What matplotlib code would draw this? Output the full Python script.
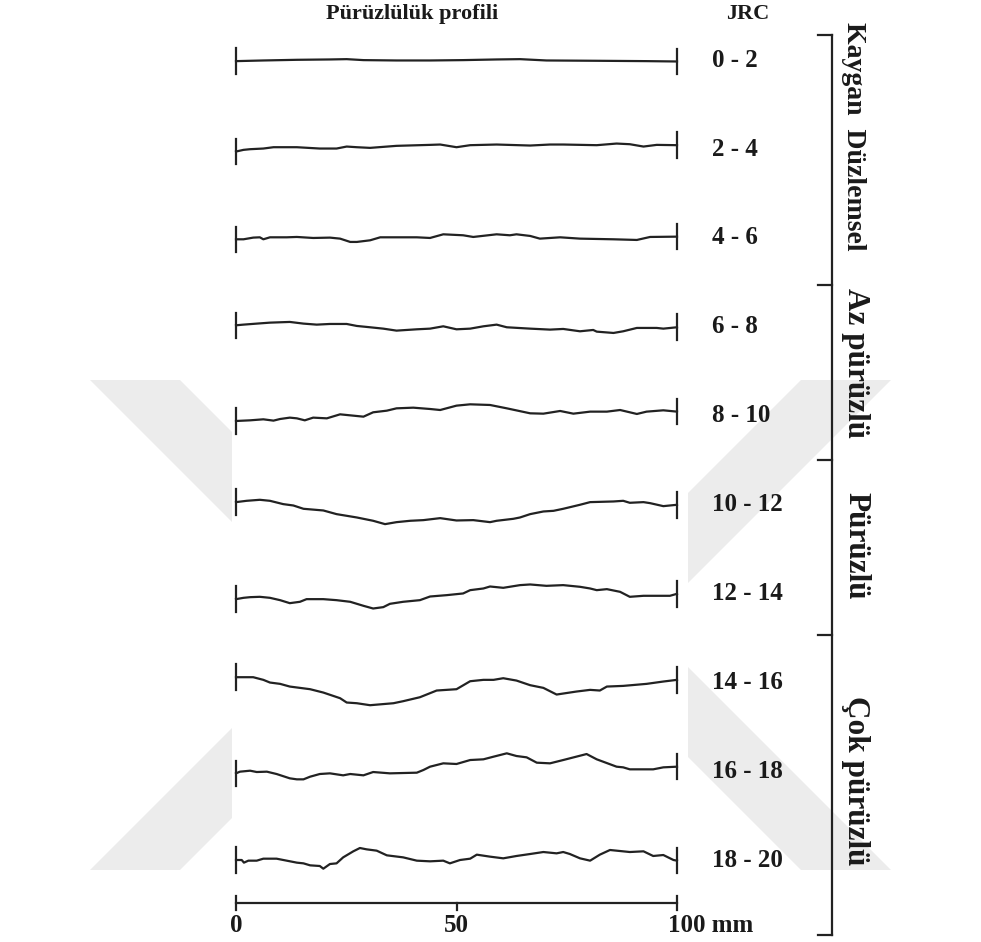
import matplotlib
matplotlib.use("Agg")
import matplotlib.pyplot as plt
from matplotlib.patches import Polygon, Rectangle

plt.rcParams['font.family'] = ['Liberation Serif', 'DejaVu Serif']

# JRC classes and their roughness profiles (x in mm, height in mm)
jrc_labels = ['0 - 2', '2 - 4', '4 - 6', '6 - 8', '8 - 10',
              '10 - 12', '12 - 14', '14 - 16', '16 - 18', '18 - 20']

x_p1 = [0, 6.2, 13.8, 21.3, 25.1, 28.9, 36.4, 44.0, 51.5, 59.1, 64.4, 70.4, 81.8, 93.1, 100]
h_p1 = [0, 0.15, 0.30, 0.38, 0.45, 0.23, 0.15, 0.15, 0.23, 0.38, 0.45, 0.15, 0.08, 0, -0.08]

x_p2 = [0, 1.7, 3.2, 6.2, 8.5, 13.8, 19.0, 22.8, 25.1, 27.4, 30.4, 36.4, 44.0, 46.3, 50.0,
        53.1, 59.1, 66.7, 71.2, 74.2, 81.8, 86.3, 89.3, 92.4, 95.4, 100]
h_p2 = [0, 0.38, 0.53, 0.68, 0.98, 0.98, 0.68, 0.68, 1.13, 0.98, 0.83, 1.29, 1.51, 1.59, 0.98,
        1.44, 1.59, 1.36, 1.59, 1.59, 1.44, 1.81, 1.66, 1.13, 1.51, 1.44]

x_p3 = [0, 1.7, 3.9, 5.4, 6.2, 7.7, 11.5, 13.8, 17.5, 21.3, 23.6, 25.9, 27.4, 30.4, 32.7, 36.4,
        41.0, 44.0, 47.0, 51.5, 53.8, 59.1, 62.1, 63.6, 66.7, 68.9, 73.5, 78.0, 85.6, 90.9, 93.9, 100]
h_p3 = [0, 0, 0.38, 0.45, 0, 0.45, 0.45, 0.53, 0.30, 0.38, 0.15, -0.60, -0.60, -0.23, 0.45, 0.45,
        0.45, 0.30, 1.13, 0.91, 0.53, 1.13, 0.91, 1.13, 0.76, 0.15, 0.45, 0.15, 0, -0.15, 0.53, 0.60]

x_p4 = [0, 1.7, 4.7, 7.7, 12.2, 15.3, 18.3, 21.3, 25.1, 27.4, 30.4, 33.4, 36.4, 41.0, 44.0, 47.0,
        50.0, 53.1, 56.1, 59.1, 61.4, 66.7, 71.2, 74.2, 78.0, 81.0, 81.8, 85.6, 87.8, 90.9, 95.4, 96.9, 100]
h_p4 = [0, 0.15, 0.38, 0.60, 0.76, 0.38, 0.15, 0.30, 0.30, -0.15, -0.45, -0.76, -1.21, -0.91, -0.76, -0.23,
        -0.91, -0.76, -0.23, 0.15, -0.45, -0.76, -0.98, -0.83, -1.36, -1.06, -1.44, -1.74, -1.36, -0.60, -0.60, -0.76, -0.45]

x_p5 = [0, 3.2, 6.2, 8.5, 10.0, 12.2, 13.8, 15.6, 17.5, 20.6, 23.6, 26.6, 28.9, 31.1, 34.2, 36.4, 40.2,
        44.0, 46.3, 50.0, 53.1, 57.6, 61.4, 66.7, 69.7, 73.5, 76.5, 80.3, 84.1, 87.1, 90.9, 93.1, 96.9, 100]
h_p5 = [0, 0.15, 0.38, 0.08, 0.45, 0.76, 0.60, 0.15, 0.76, 0.60, 1.51, 1.21, 0.98, 1.97, 2.34, 2.87, 3.02,
        2.72, 2.49, 3.48, 3.78, 3.63, 2.87, 1.74, 1.66, 2.27, 1.66, 2.12, 2.12, 2.49, 1.59, 2.12, 2.42, 2.12]

x_p6 = [0, 2.4, 5.4, 7.7, 10.7, 13.0, 15.3, 19.8, 22.8, 27.4, 31.1, 33.8, 36.4, 39.5, 42.5, 46.3, 50.0, 53.8,
        57.6, 59.1, 62.9, 64.4, 66.7, 69.7, 72.0, 74.2, 78.0, 80.3, 85.6, 87.8, 89.3, 92.4, 93.9, 96.9, 100]
h_p6 = [0, 0.30, 0.53, 0.30, -0.45, -0.76, -1.51, -1.89, -2.72, -3.48, -4.23, -4.99, -4.54, -4.23, -4.08, -3.63,
        -4.16, -4.08, -4.54, -4.23, -3.78, -3.48, -2.72, -2.12, -1.97, -1.51, -0.60, 0, 0.15, 0.30, -0.15, 0, -0.23,
        -0.91, -0.60]

x_p7 = [0, 1.7, 3.2, 5.4, 7.7, 10.0, 12.2, 14.5, 16.0, 19.8, 22.8, 25.9, 28.9, 31.1, 33.4, 34.9, 37.9, 41.7,
        44.0, 47.8, 51.5, 53.1, 56.1, 57.6, 60.6, 64.4, 66.7, 70.4, 74.2, 78.0, 80.3, 81.8, 84.1, 87.1, 89.3,
        92.4, 95.4, 98.4, 100]
h_p7 = [0, 0.30, 0.45, 0.53, 0.30, -0.23, -0.91, -0.60, 0, 0, -0.23, -0.60, -1.51, -2.12, -1.81, -1.06, -0.60,
        -0.23, 0.60, 0.91, 1.29, 2.04, 2.42, 2.87, 2.57, 3.18, 3.33, 3.02, 3.18, 2.80, 2.42, 2.04, 2.27, 1.66,
        0.53, 0.76, 0.76, 0.76, 1.21]

x_p8 = [0, 3.9, 6.2, 7.7, 10.0, 12.2, 16.8, 19.8, 23.6, 25.1, 27.4, 30.4, 35.7, 37.9, 41.7, 45.5, 50.0,
        53.1, 56.1, 58.4, 60.6, 63.6, 66.7, 69.7, 72.7, 77.2, 80.3, 82.5, 84.1, 87.8, 93.1, 96.9, 100]
h_p8 = [0, 0, -0.60, -1.21, -1.51, -2.12, -2.72, -3.48, -4.76, -5.74, -5.90, -6.35, -5.90, -5.44, -4.54,
        -3.02, -2.72, -0.91, -0.60, -0.60, -0.23, -0.76, -1.81, -2.42, -3.93, -3.25, -2.87, -3.02, -2.12,
        -1.97, -1.51, -0.98, -0.60]

x_p9 = [0, 0.9, 3.2, 4.7, 7.0, 9.2, 12.2, 13.8, 15.3, 16.8, 19.0, 21.3, 24.3, 25.9, 28.9, 31.1, 34.9, 41.0,
        42.5, 44.0, 47.0, 50.0, 53.1, 56.1, 58.4, 61.4, 63.6, 65.9, 68.2, 71.2, 74.2, 79.5, 81.8, 86.3,
        87.8, 89.3, 94.6, 96.9, 100]
h_p9 = [0, 0.38, 0.60, 0.30, 0.38, -0.15, -1.13, -1.36, -1.36, -0.76, -0.15, 0, -0.45, -0.15, -0.45, 0.30,
        0, 0.15, 0.76, 1.51, 2.27, 2.12, 3.02, 3.18, 3.78, 4.54, 3.93, 3.63, 2.42, 2.27, 3.02, 4.38, 3.18,
        1.51, 1.36, 0.91, 0.91, 1.36, 1.51]

x_p10 = [0, 1.3, 1.8, 2.8, 4.7, 6.2, 9.2, 11.5, 13.8, 15.3, 16.8, 19.0, 19.8, 21.3, 22.8, 24.3, 26.6,
         28.1, 29.6, 31.9, 34.2, 37.9, 41.0, 44.0, 47.0, 48.5, 50.8, 53.1, 54.6, 57.6, 60.6, 63.6, 66.7,
         69.7, 72.7, 74.2, 75.7, 78.0, 80.3, 82.5, 84.8, 89.3, 92.4, 94.6, 96.9, 99.2, 100]
h_p10 = [0, 0, -0.60, -0.15, -0.15, 0.30, 0.30, -0.15, -0.60, -0.76, -1.21, -1.36, -1.97, -0.91, -0.76,
         0.60, 1.97, 2.72, 2.42, 2.12, 1.06, 0.60, -0.15, -0.30, -0.15, -0.76, 0, 0.30, 1.21, 0.76, 0.38,
         0.91, 1.36, 1.81, 1.51, 1.81, 1.36, 0.38, -0.15, 1.21, 2.27, 1.81, 1.97, 0.91, 1.13, 0, -0.15]

profiles = [(x_p1, h_p1), (x_p2, h_p2), (x_p3, h_p3), (x_p4, h_p4), (x_p5, h_p5),
            (x_p6, h_p6), (x_p7, h_p7), (x_p8, h_p8), (x_p9, h_p9), (x_p10, h_p10)]

# surface classes and the bracket limits between them (mm)
class_names = ['Kaygan  Düzlemsel', 'Az pürüzlü', 'Pürüzlü', 'Çok pürüzlü']
class_breaks = [196.8, 140.1, 100.5, 60.8, -7.3]

scale_ticks = [0, 50, 100]
scale_labels = ['0', '50', '100 mm']

# ---- layout (mm, origin at left end of the scale bar) ----
PX = 4.41                      # pixels per mm on the 981x942 canvas
row_start = [190.9, 170.4, 150.5, 131.0, 109.3, 90.9, 68.9, 51.2, 29.4, 9.75]
label_y = [191.1 - 20.15 * i for i in range(10)]
label_x = 108.0
tick_half = 2.9
bracket_x = 135.1
class_text_x = 137.2
class_text_y = [173.8, 122.5, 81.0, 27.8]
class_size = [20, 22.5, 22.5, 22.5]

fig = plt.figure(figsize=(9.81, 9.42), dpi=100)
ax = fig.add_axes([0, 0, 1, 1])
ax.set_xlim(-236 / PX, (981 - 236) / PX)
ax.set_ylim((903 - 942) / PX, 903 / PX)
ax.axis('off')

ink = '#222222'
lw = 1.6

# background watermark, covered by the drawing area
def px(x, y):
    return ((x - 236) / PX, (903 - y) / PX)

wm = '#ececec'
chevron = [(90, 380), (180, 380), (425, 625), (180, 870), (90, 870), (335, 625)]
ax.add_patch(Polygon([px(x, y) for x, y in chevron], closed=True, color=wm, lw=0, zorder=0))
ax.add_patch(Polygon([px(981 - x, y) for x, y in chevron], closed=True, color=wm, lw=0, zorder=0))
x0, y0 = px(232, 880)
x1, y1 = px(688, 370)
ax.add_patch(Rectangle((x0, y0), x1 - x0, y1 - y0, color='white', lw=0, zorder=0.5))

# profiles with end marks
for (xs, hs), base in zip(profiles, row_start):
    ys = [base + h for h in hs]
    ax.plot(xs, ys, color=ink, lw=lw, solid_joinstyle='round', zorder=2)
    for xe, ye in [(xs[0], ys[0]), (xs[-1], ys[-1])]:
        ax.plot([xe, xe], [ye - tick_half, ye + tick_half], color=ink, lw=lw, zorder=2)

# JRC values
txt = dict(fontweight='bold', color='#1a1a1a')
for lab, yl in zip(jrc_labels, label_y):
    ax.text(label_x, yl, lab, ha='left', va='center', fontsize=18, **txt)

ax.text(39.9, 201.6, 'Pürüzlülük profili', ha='center', va='center', fontsize=16, **txt)
ax.text(116.1, 201.6, 'JRC', ha='center', va='center', fontsize=16, **txt)

# class bracket
ax.plot([bracket_x, bracket_x], [class_breaks[0], class_breaks[-1]], color=ink, lw=lw)
for yb in class_breaks:
    ax.plot([bracket_x - 3.2, bracket_x], [yb, yb], color=ink, lw=lw)
for name, yt, fs in zip(class_names, class_text_y, class_size):
    ax.text(class_text_x, yt, name, rotation=-90, ha='center', va='bottom',
            rotation_mode='anchor', fontsize=fs, **txt)

# scale bar
ax.plot([scale_ticks[0], scale_ticks[-1]], [0, 0], color=ink, lw=lw)
for xt in (scale_ticks[0], scale_ticks[-1]):
    ax.plot([xt, xt], [-1.5, 1.5], color=ink, lw=lw)
ax.plot([scale_ticks[1], scale_ticks[1]], [0, -1.5], color=ink, lw=lw)
for xt, lab in zip(scale_ticks, scale_labels):
    ha = 'left' if lab.endswith('mm') else 'center'
    xl = xt - 2.0 if ha == 'left' else xt
    ax.text(xl, -5.2, lab, ha=ha, va='center', fontsize=18, **txt)

fig.savefig('out.png', dpi=100)
